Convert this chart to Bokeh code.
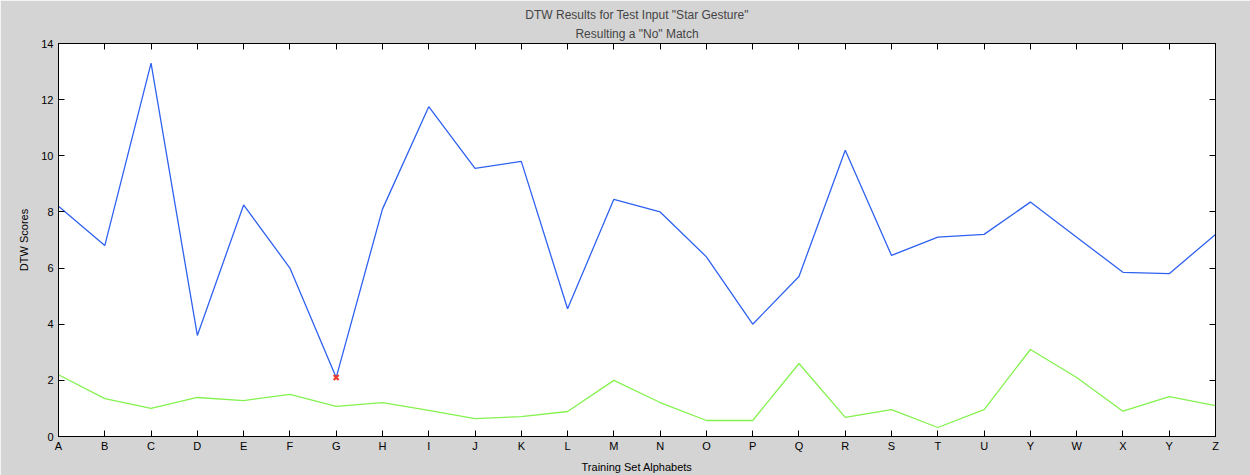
from bokeh.plotting import figure
from bokeh.models import Range1d, LinearAxis, FixedTicker, Title
from bokeh.embed import file_html
from bokeh.resources import INLINE

# ---- data ----
letters = ["A", "B", "C", "D", "E", "F", "G", "H", "I", "J", "K", "L", "M",
           "N", "O", "P", "Q", "R", "S", "T", "U", "Y", "W", "X", "Y", "Z"]
blue_scores = [8.2, 6.8, 13.3, 3.6, 8.25, 6.0, 2.1, 8.1, 11.75, 9.55, 9.8, 4.55, 8.45,
               8.0, 6.4, 4.0, 5.7, 10.2, 6.45, 7.1, 7.2, 8.35, 7.1, 5.85, 5.8, 7.2]
green_scores = [2.2, 1.35, 1.0, 1.39, 1.28, 1.5, 1.07, 1.21, 0.93, 0.64, 0.71, 0.89, 2.0,
                1.21, 0.57, 0.57, 2.6, 0.68, 0.96, 0.32, 0.96, 3.1, 2.1, 0.9, 1.42, 1.1]
match_index = [6]
match_score = [2.1]
y_ticks = [0, 2, 4, 6, 8, 10, 12, 14]
title_lines = ['DTW Results for Test Input "Star Gesture"', 'Resulting a "No" Match']

xs = list(range(len(letters)))

FONT = "Liberation Sans"
GREY = "#d4d4d4"

p = figure(width=1250, height=475, output_backend="svg", toolbar_location=None,
           x_range=Range1d(0, len(letters) - 1), y_range=Range1d(0, 14),
           x_axis_label="Training Set Alphabets", y_axis_label="DTW Scores")
p.min_border_left = 58
p.min_border_right = 35
p.min_border_top = 43
p.min_border_bottom = 39
p.border_fill_color = GREY
p.background_fill_color = "white"
p.outline_line_color = "black"
p.outline_line_width = 1
p.grid.visible = False

p.line(xs, blue_scores, line_color="#2f62f0", line_width=1.3)
p.line(xs, green_scores, line_color="#84f24e", line_width=1.3)
p.scatter(match_index, match_score, marker="x", size=7, line_color="#f03a2a", line_width=2.2)

label_map = {i: l for i, l in enumerate(letters)}

def style_axis(ax, ticks, overrides=None, show_labels=True):
    ax.ticker = FixedTicker(ticks=ticks)
    ax.minor_tick_line_color = None
    ax.major_tick_in = 6
    ax.major_tick_out = 0
    ax.axis_line_color = "black"
    ax.major_tick_line_color = "black"
    ax.major_label_text_font = FONT
    if show_labels:
        ax.major_label_text_font_size = "11px"
        ax.major_label_text_color = "black"
    else:
        ax.major_label_text_font_size = "1px"
        ax.major_label_text_color = None
        ax.major_label_standoff = 0
    ax.axis_label_text_font = FONT
    ax.axis_label_text_font_size = "11px"
    ax.axis_label_text_font_style = "normal"
    ax.axis_label_text_color = "black"
    if overrides:
        ax.major_label_overrides = overrides

xa = p.xaxis[0]
style_axis(xa, xs, label_map)
xa.major_label_standoff = 3
xa.axis_label_standoff = 6

ya = p.yaxis[0]
style_axis(ya, y_ticks)
ya.major_label_standoff = 5
ya.axis_label_standoff = 8

right = LinearAxis()
style_axis(right, y_ticks, show_labels=False)
p.add_layout(right, "right")

top = LinearAxis()
style_axis(top, xs, show_labels=False)
p.add_layout(top, "above")

t2 = Title(text=title_lines[1], align="center", text_font=FONT,
           text_font_size="12px", text_font_style="normal", standoff=6)
t1 = Title(text=title_lines[0], align="center", text_font=FONT,
           text_font_size="12px", text_font_style="normal", standoff=0)
p.add_layout(t2, "above")
p.add_layout(t1, "above")

open("out.html", "w").write(file_html(p, INLINE))
